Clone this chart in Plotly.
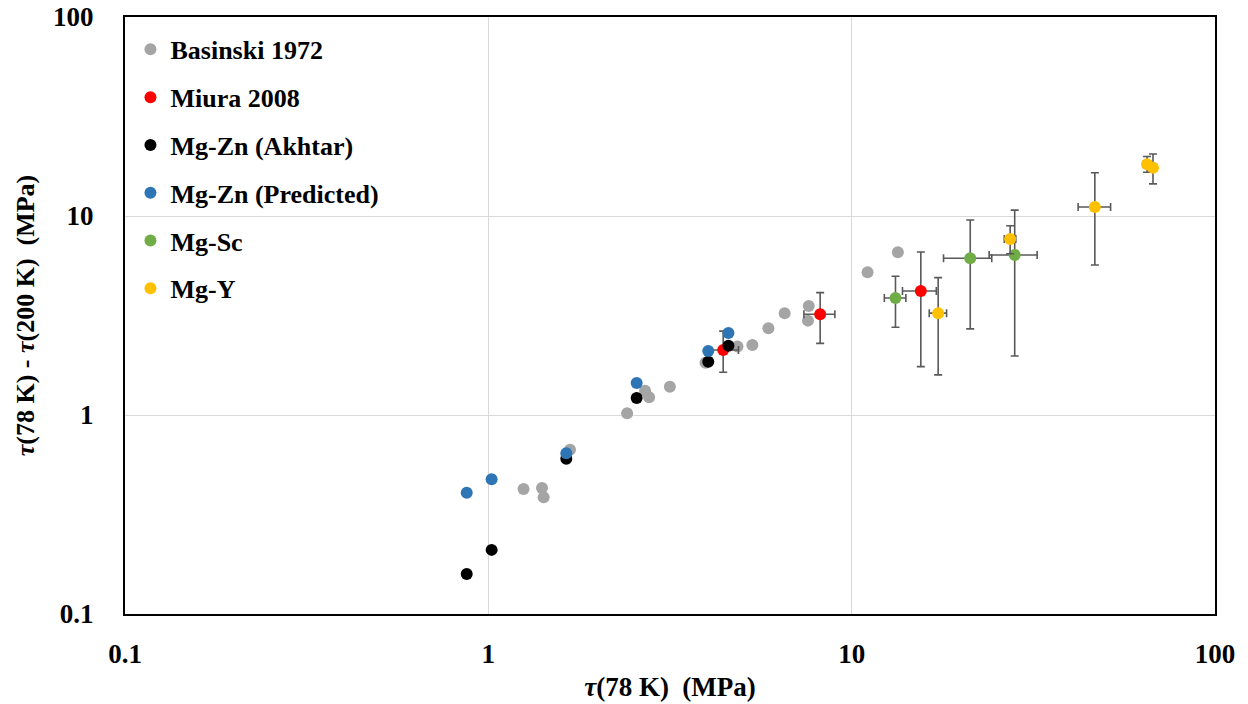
import plotly.graph_objects as go

# Basinski 1972
bas_x = [1.25, 1.405, 1.42, 1.678, 2.41, 2.70, 2.77, 3.16, 3.96, 4.85, 5.33, 5.90, 6.54, 7.62, 7.58, 11.06, 13.4]
bas_y = [0.425, 0.430, 0.386, 0.669, 1.02, 1.325, 1.227, 1.388, 1.83, 2.21, 2.25, 2.73, 3.25, 3.53, 2.98, 5.21, 6.57]

# Miura 2008 (with error bars)
miu_x = [4.43, 8.19, 15.5]
miu_y = [2.12, 3.21, 4.20]
miu_xp = [0.45, 0.8, 1.6]
miu_xm = [0.45, 0.8, 1.7]
miu_yp = [0.52, 0.91, 2.39]
miu_ym = [0.48, 0.92, 2.45]

# Mg-Zn (Akhtar)
akh_x = [0.872, 1.021, 1.639, 2.56, 4.03, 4.58]
akh_y = [0.159, 0.210, 0.603, 1.217, 1.853, 2.23]

# Mg-Zn (Predicted)
pre_x = [0.872, 1.021, 1.639, 2.56, 4.03, 4.58]
pre_y = [0.407, 0.475, 0.642, 1.448, 2.097, 2.58]

# Mg-Sc
sc_x = [13.2, 21.2, 28.1]
sc_y = [3.87, 6.13, 6.37]
sc_xp = [0.9, 3.1, 4.3]
sc_xm = [0.9, 3.3, 4.2]
sc_yp = [1.11, 3.42, 4.33]
sc_ym = [1.11, 3.42, 4.39]

# Mg-Y
y_x = [17.3, 27.3, 46.7, 65.0, 67.5]
y_y = [3.25, 7.66, 11.1, 18.2, 17.5]
y_xp = [0.95, 1.0, 4.9, 1.5, 1.5]
y_xm = [0.95, 1.0, 4.7, 1.5, 1.5]
y_yp = [1.65, 1.28, 5.4, 1.7, 3.0]
y_ym = [1.66, 1.2, 5.43, 1.6, 3.0]

ERR_COLOR = "#595959"
FONT = "Liberation Serif"


def err(plus, minus):
    return dict(type="data", symmetric=False, array=plus, arrayminus=minus,
                color=ERR_COLOR, thickness=1.6, width=4)


fig = go.Figure()

series = [
    ("Basinski 1972", bas_x, bas_y, "#A5A5A5", None),
    ("Miura 2008", miu_x, miu_y, "#FF0000", (miu_xp, miu_xm, miu_yp, miu_ym)),
    ("Mg-Zn (Akhtar)", akh_x, akh_y, "#000000", None),
    ("Mg-Zn (Predicted)", pre_x, pre_y, "#2E75B6", None),
    ("Mg-Sc", sc_x, sc_y, "#70AD47", (sc_xp, sc_xm, sc_yp, sc_ym)),
    ("Mg-Y", y_x, y_y, "#FFC000", (y_xp, y_xm, y_yp, y_ym)),
]

for name, xs, ys, color, errs in series:
    kw = {}
    if errs is not None:
        kw["error_x"] = err(errs[0], errs[1])
        kw["error_y"] = err(errs[2], errs[3])
    fig.add_trace(go.Scatter(
        x=xs, y=ys, mode="markers", name=name, legendgroup=name,
        marker=dict(color=color, size=12, line=dict(width=0)),
        **kw,
    ))

axis_common = dict(
    type="log", automargin=False,
    showgrid=True, gridcolor="#D9D9D9", gridwidth=1,
    showline=True, linecolor="black", linewidth=2, mirror=True,
    zeroline=False, ticks="",
    tickvals=[0.1, 1, 10, 100], ticktext=["0.1", "1", "10", "100"],
    tickfont=dict(family=FONT, size=27, color="black", weight="bold"),
)

fig.update_xaxes(
    range=[-1, 2], ticklabelstandoff=15,
    title=dict(text="<i>τ</i>(78 K)  (MPa)", standoff=9,
               font=dict(family=FONT, size=27, color="black", weight="bold")),
    **axis_common,
)
fig.update_yaxes(
    range=[-1, 2], ticklabelstandoff=24,
    title=dict(text="<i>τ</i>(78 K) - <i>τ</i>(200 K)  (MPa)", standoff=11,
               font=dict(family=FONT, size=26, color="black", weight="bold")),
    **axis_common,
)

fig.update_layout(
    width=1248, height=704,
    margin=dict(l=125, r=33, t=17, b=90),
    plot_bgcolor="white", paper_bgcolor="white",
    showlegend=True,
    legend=dict(
        x=0.005, y=0.985, xanchor="left", yanchor="top",
        bgcolor="rgba(255,255,255,0)",
        font=dict(family=FONT, size=26, color="black", weight="bold"),
        traceorder="grouped", tracegroupgap=11,
        itemsizing="constant",
    ),
)

fig.write_html("out.html")
